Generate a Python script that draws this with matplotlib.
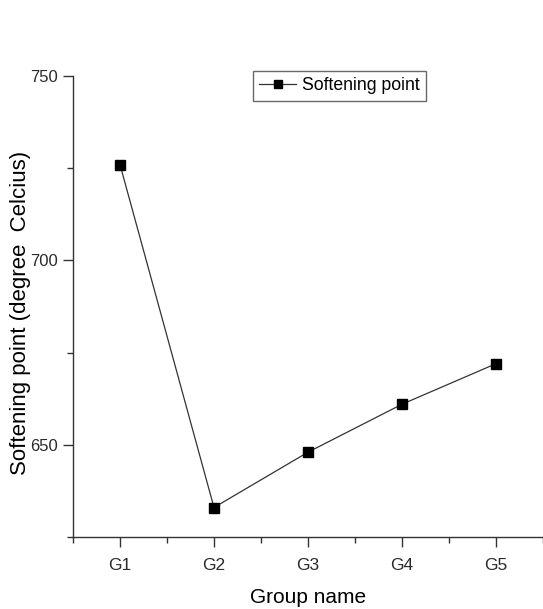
import matplotlib
matplotlib.use("Agg")
import matplotlib.pyplot as plt
from matplotlib.ticker import MultipleLocator

groups = ["G1", "G2", "G3", "G4", "G5"]
softening = [726, 633, 648, 661, 672]

plt.rcParams['font.family'] = ['Liberation Sans', 'DejaVu Sans']

fig = plt.figure(figsize=(5.43, 6.09), dpi=100)
ax = fig.add_axes([0.1344, 0.1182, 0.8656, 0.757])

x = list(range(1, len(groups) + 1))
ax.plot(x, softening, color='#333333', lw=0.9, marker='s', markersize=7.5,
        markerfacecolor='black', markeredgecolor='black', label='Softening point')

ax.set_xlim(0.5, 5.5)
ax.set_ylim(625, 750)
ax.set_xticks(x)
ax.set_xticklabels(groups)
ax.xaxis.set_minor_locator(MultipleLocator(0.5))
ax.set_yticks([650, 700, 750])
ax.yaxis.set_minor_locator(MultipleLocator(25))

for s in ['top', 'right']:
    ax.spines[s].set_visible(False)
for s in ['left', 'bottom']:
    ax.spines[s].set_color('#333333')
    ax.spines[s].set_linewidth(1.0)

ax.tick_params(which='major', direction='out', length=7, width=1, colors='#333333',
               labelsize=12, labelcolor='#2a2a2a', pad=4)
ax.tick_params(which='minor', direction='out', length=4, width=1, colors='#333333')
ax.tick_params(axis='x', which='major', pad=8, labelsize=12.5)

ax.set_xlabel('Group name', fontsize=15)
ax.xaxis.set_label_coords(0.5, -0.11)
ax.set_ylabel('Softening point (degree  Celcius)', fontsize=16)
ax.yaxis.set_label_coords(-0.089, 0.485)

leg = ax.legend(loc='upper left', bbox_to_anchor=(0.383, 1.011), frameon=True, fancybox=False,
                fontsize=12.7, handlelength=2.1, handletextpad=0.3, borderpad=0.36,
                borderaxespad=0, markerscale=0.75)
leg.get_frame().set_edgecolor('#444444')
leg.get_frame().set_linewidth(1.0)

fig.savefig('out.png', dpi=100)
